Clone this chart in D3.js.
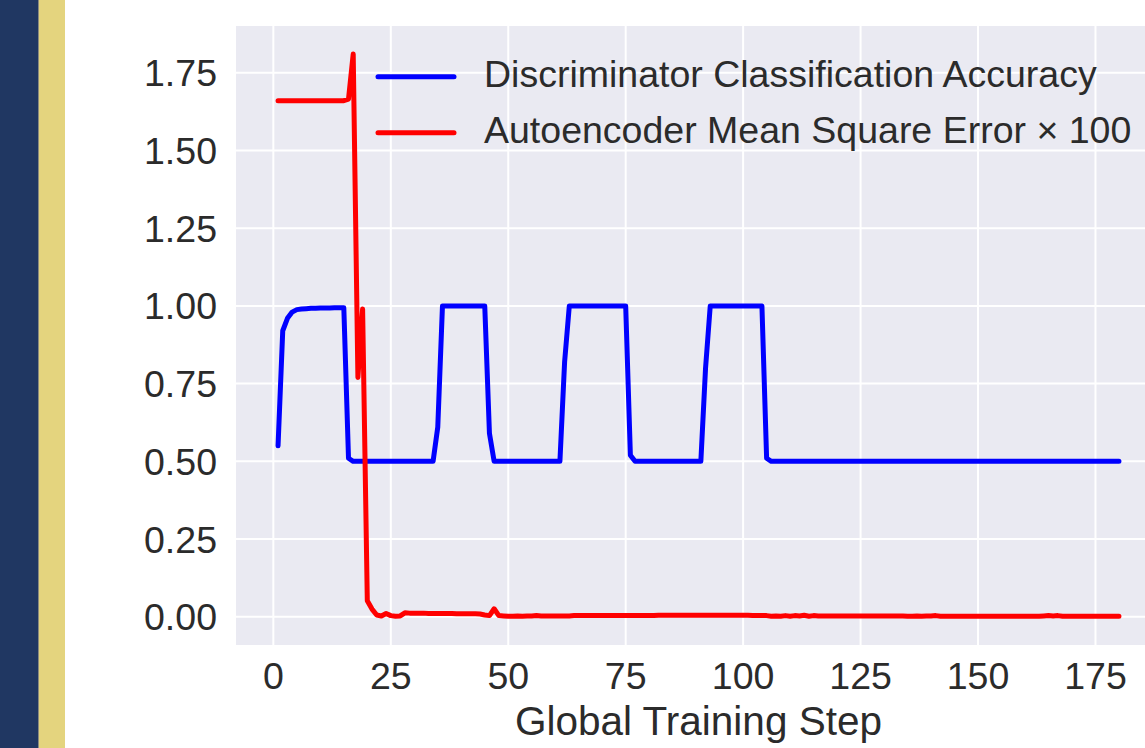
<!DOCTYPE html>
<html>
<head>
<meta charset="utf-8">
<script src="https://cdn.jsdelivr.net/npm/d3@7"></script>
<style>
  html, body { margin: 0; padding: 0; background: #ffffff; }
  svg { display: block; }
  text { font-family: "Liberation Sans", Arial, sans-serif; fill: #2b2b2b; }
</style>
</head>
<body>
<svg width="1145" height="748"></svg>
<script>
// training steps (1..180)
const steps = d3.range(1, 181)

// discriminator classification accuracy, one value per step
const accuracy = [
  0.55, 0.92, 0.96, 0.98, 0.988, 0.99, 0.991, 0.992, 0.992, 0.993, 0.993, 0.993, 0.994, 0.994, 0.994, 0.51,
  0.5, 0.5, 0.5, 0.5, 0.5, 0.5, 0.5, 0.5, 0.5, 0.5, 0.5, 0.5, 0.5, 0.5, 0.5, 0.5, 0.5, 0.5,
  0.61,
  1.0, 1.0, 1.0, 1.0, 1.0, 1.0, 1.0, 1.0, 1.0, 1.0,
  0.59,
  0.5, 0.5, 0.5, 0.5, 0.5, 0.5, 0.5, 0.5, 0.5, 0.5, 0.5, 0.5, 0.5, 0.5, 0.5,
  0.82,
  1.0, 1.0, 1.0, 1.0, 1.0, 1.0, 1.0, 1.0, 1.0, 1.0, 1.0, 1.0, 1.0,
  0.52,
  0.5, 0.5, 0.5, 0.5, 0.5, 0.5, 0.5, 0.5, 0.5, 0.5, 0.5, 0.5, 0.5, 0.5, 0.5,
  0.8,
  1.0, 1.0, 1.0, 1.0, 1.0, 1.0, 1.0, 1.0, 1.0, 1.0, 1.0, 1.0,
  0.51,
  0.5, 0.5, 0.5, 0.5, 0.5, 0.5, 0.5, 0.5, 0.5, 0.5, 0.5, 0.5, 0.5, 0.5, 0.5,
  0.5, 0.5, 0.5, 0.5, 0.5, 0.5, 0.5, 0.5, 0.5, 0.5, 0.5, 0.5, 0.5, 0.5, 0.5,
  0.5, 0.5, 0.5, 0.5, 0.5, 0.5, 0.5, 0.5, 0.5, 0.5, 0.5, 0.5, 0.5, 0.5, 0.5,
  0.5, 0.5, 0.5, 0.5, 0.5, 0.5, 0.5, 0.5, 0.5, 0.5, 0.5, 0.5, 0.5, 0.5, 0.5,
  0.5, 0.5, 0.5, 0.5, 0.5, 0.5, 0.5, 0.5, 0.5, 0.5, 0.5, 0.5, 0.5, 0.5, 0.5
]

// autoencoder mean square error x 100
const mse = [
  1.66, 1.66, 1.66, 1.66, 1.66, 1.66, 1.66, 1.66, 1.66, 1.66, 1.66, 1.66, 1.66, 1.66, 1.66,
  1.665, 1.81, 0.77, 0.99, 0.052, 0.025, 0.006, 0.003, 0.011, 0.004, 0.002, 0.003, 0.013,
  0.012, 0.012, 0.012, 0.012, 0.011, 0.011, 0.011, 0.011, 0.011, 0.011,
  0.010, 0.010, 0.010, 0.010, 0.010, 0.009, 0.006, 0.004, 0.026, 0.004,
  0.003, 0.002, 0.002, 0.003, 0.002, 0.003, 0.003, 0.004, 0.003, 0.003, 0.003, 0.003,
  0.003, 0.003, 0.003, 0.004, 0.004, 0.004, 0.004, 0.004, 0.004, 0.004, 0.004, 0.004,
  0.004, 0.004, 0.004, 0.004, 0.004, 0.004, 0.004, 0.004, 0.004, 0.005, 0.005, 0.005,
  0.005, 0.005, 0.005, 0.005, 0.005, 0.005, 0.005, 0.005, 0.005, 0.005, 0.005, 0.005,
  0.005, 0.005, 0.005, 0.005, 0.005, 0.004, 0.004, 0.004, 0.004, 0.002, 0.003, 0.002,
  0.004, 0.002, 0.004, 0.003, 0.005, 0.002, 0.004, 0.003, 0.003, 0.003, 0.003, 0.003,
  0.003, 0.003, 0.003, 0.003, 0.003, 0.003, 0.003, 0.003, 0.003, 0.003, 0.003, 0.003,
  0.003, 0.003, 0.002, 0.002, 0.003, 0.002, 0.003, 0.003, 0.004, 0.002, 0.002, 0.002,
  0.002, 0.002, 0.002, 0.002, 0.002, 0.002, 0.002, 0.002, 0.002, 0.002, 0.002, 0.002,
  0.002, 0.002, 0.002, 0.002, 0.002, 0.002, 0.002, 0.003, 0.004, 0.003, 0.004, 0.002,
  0.002, 0.002, 0.002, 0.002, 0.002, 0.002, 0.002, 0.002, 0.002, 0.002, 0.002, 0.002
]

const xTicks = [0, 25, 50, 75, 100, 125, 150, 175]
const yTicks = [0, 0.25, 0.5, 0.75, 1.0, 1.25, 1.5, 1.75]
const seriesNames = ["Discriminator Classification Accuracy", "Autoencoder Mean Square Error \u00d7 100"]
const seriesColors = ["#0000ff", "#ff0000"]

const svg = d3.select("svg")

// side strips
svg.append("rect").attr("x", 0).attr("y", 0).attr("width", 38).attr("height", 748).attr("fill", "#203762")
svg.append("rect").attr("x", 38).attr("y", 0).attr("width", 1).attr("height", 748).attr("fill", "#8a8a80")
svg.append("rect").attr("x", 39).attr("y", 0).attr("width", 26).attr("height", 748).attr("fill", "#e4d47e")

const plotL = 236, plotR = 1161, plotT = 26, plotB = 645

const x = d3.scaleLinear().domain([-7.95, 188.95]).range([plotL, plotR])
const y = d3.scaleLinear().domain([-0.0905, 1.9]).range([plotB, plotT])

// plot background
svg.append("rect")
  .attr("x", plotL).attr("y", plotT)
  .attr("width", plotR - plotL).attr("height", plotB - plotT)
  .attr("fill", "#eaeaf2")

// grid
const grid = svg.append("g")
grid.selectAll(".gx").data(xTicks).enter().append("line")
  .attr("x1", d => x(d)).attr("x2", d => x(d))
  .attr("y1", plotT).attr("y2", plotB)
  .attr("stroke", "#ffffff").attr("stroke-width", 2)
grid.selectAll(".gy").data(yTicks).enter().append("line")
  .attr("x1", plotL).attr("x2", plotR)
  .attr("y1", d => y(d)).attr("y2", d => y(d))
  .attr("stroke", "#ffffff").attr("stroke-width", 2)

// tick labels
svg.append("g").selectAll("text").data(xTicks).enter().append("text")
  .attr("x", d => x(d)).attr("y", 689)
  .attr("text-anchor", "middle")
  .attr("font-size", 37.5)
  .text(d => d)
svg.append("g").selectAll("text").data(yTicks).enter().append("text")
  .attr("x", 217).attr("y", d => y(d) + 13.5)
  .attr("text-anchor", "end")
  .attr("font-size", 37.5)
  .text(d => d3.format(".2f")(d))

svg.append("text")
  .attr("x", (plotL + plotR) / 2).attr("y", 735)
  .attr("text-anchor", "middle")
  .attr("font-size", 40.5)
  .text("Global Training Step")

// lines
const line = d3.line().x(d => x(d[0])).y(d => y(d[1]))
const series = [accuracy, mse]
series.forEach((vals, i) => {
  svg.append("path")
    .datum(steps.map((s, j) => [s, vals[j]]))
    .attr("d", line)
    .attr("fill", "none")
    .attr("stroke", seriesColors[i])
    .attr("stroke-width", 5)
    .attr("stroke-linejoin", "round")
    .attr("stroke-linecap", "round")
})

// legend
const legend = svg.append("g")
seriesNames.forEach((name, i) => {
  const ly = 76.7 + i * 56
  legend.append("line")
    .attr("x1", 378).attr("x2", 454)
    .attr("y1", ly).attr("y2", ly)
    .attr("stroke", seriesColors[i]).attr("stroke-width", 5)
    .attr("stroke-linecap", "round")
  legend.append("text")
    .attr("x", 484).attr("y", ly + 10)
    .attr("font-size", 37.5)
    .text(name)
})
</script>
</body>
</html>
